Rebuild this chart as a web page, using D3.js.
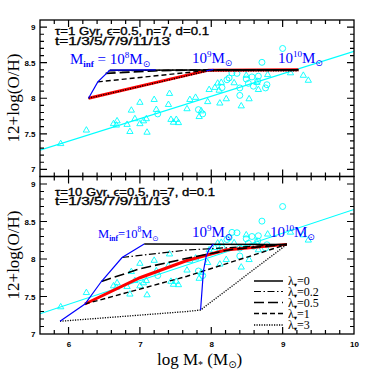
<!DOCTYPE html>
<html><head><meta charset="utf-8">
<script src="https://cdn.jsdelivr.net/npm/d3@7"></script>
<style>body{margin:0;background:#fff} svg{display:block}</style>
</head><body>
<svg id="c" width="374" height="374"></svg>
<script>
// ---------------- data ----------------
const obsTriangles = [
 [5.89,7.36],[6.25,7.55],[6.63,7.64],[6.68,7.68],[6.67,7.62],[6.82,7.63],[6.88,7.83],[6.86,7.53],
 [6.93,7.71],[7.00,7.64],[7.00,7.94],[7.05,7.68],[7.09,7.71],[7.10,7.52],[7.20,7.98],[7.23,7.84],
 [7.40,7.91],[7.415,8.065],[7.435,7.70],[7.47,7.66],[7.51,7.70],[7.54,7.655],[7.66,7.85],[7.70,7.98],
 [7.78,8.01],[7.83,7.74],[7.86,7.82],[7.95,7.95],[7.97,8.12],[8.05,8.15],[8.09,8.21],[8.11,8.11],
 [8.12,7.93],[8.14,8.22],[8.21,7.99],[8.32,8.215],[8.42,7.89],[8.53,7.99],[8.49,8.32],[8.64,8.22],
 [8.66,8.12],[8.79,8.33],[9.11,8.355],[9.29,8.32],[9.36,8.25]
];
const obsCircles = [
 [7.25,7.78],[7.82,7.84],[7.88,7.78],[8.15,8.15],[8.22,8.26],[8.25,8.285],[8.29,8.355],[8.36,8.35],
 [8.40,8.145],[8.40,8.04],[8.49,8.27],[8.52,8.21],[8.57,8.30],[8.59,8.17],[8.65,8.24],[8.66,8.31],
 [8.71,8.505],[8.76,8.145],[8.78,8.19],[9.00,8.70]
];
const fitLine = [[5.6,7.27],[10,8.66]];

const lambdaLabels = ["0","0.2","0.5","1","3"];

// tau = 1 Gyr panel tracks (logM*, 12+log(O/H))
const tau1_lam0  = [[6.58,8.395],[9.22,8.40]];
const tau1_lam02 = [[6.56,8.385],[7.96,8.40],[9.22,8.40]];
const tau1_lam05 = [[6.52,8.35],[7.20,8.385],[7.96,8.40],[9.22,8.40]];
const tau1_lam1  = [[6.41,8.23],[7.93,8.39],[9.22,8.40]];
const tau1_lam3  = [[6.28,8.00],[7.96,8.385],[9.22,8.385]];
const tau1_red   = [[6.28,8.00],[7.96,8.395],[9.22,8.40]];
const tau1_m8    = [[6.28,8.00],[6.41,8.23],[6.58,8.395],[7.22,8.40]];
const tau1_m9    = [[7.93,8.385],[8.03,8.405]];

// tau = 10 Gyr panel tracks
const tau10_lam0  = [[7.06,8.20],[9.06,8.195]];
const tau10_lam02 = [[6.75,8.02],[7.66,8.12],[9.06,8.195]];
const tau10_lam05 = [[6.46,7.70],[7.00,7.87],[7.66,8.01],[8.30,8.13],[9.06,8.195]];
const tau10_lam1  = [[6.23,7.40],[7.66,7.77],[9.06,8.195]];
const tau10_lam3  = [[5.88,7.17],[7.66,7.30],[7.85,7.32],[9.06,8.195]];
const tau10_red   = [[6.23,7.40],[7.00,7.75],[7.66,7.98],[8.20,8.12],[9.06,8.195]];
const tau10_m8    = [[5.88,7.17],[6.23,7.40],[6.46,7.70],[6.75,8.02],[7.06,8.20]];
const tau10_m9    = [[7.85,7.32],[7.89,7.84],[7.93,8.04],[7.97,8.13],[8.03,8.20]];

const yMajorTicks = [7,7.5,8,8.5,9];
const xMajorTicks = [6,7,8,9,10];

// ---------------- styles ----------------
const lamStyles = [
  {dash:null, w:1.5},
  {dash:"7 2.5 1.5 2.5", w:1.2},
  {dash:"10 4", w:1.6},
  {dash:"5 3", w:1.4},
  {dash:"1.2 1.3", w:1.3}
];
const serif="Liberation Serif, Times New Roman, serif";
const sans="Liberation Sans, Arial, sans-serif";

const svg = d3.select("#c");
const x = d3.scaleLinear().domain([5.6,10]).range([40,354]);
const yTop = d3.scaleLinear().domain([6.9,9.1]).range([176.5,20]);
const yBot = d3.scaleLinear().domain([7,9.1]).range([334,176.5]);

const panels = [
  {y:yTop, id:"p1", tracks:[tau1_lam0,tau1_lam02,tau1_lam05,tau1_lam1,tau1_lam3], red:tau1_red, m8:tau1_m8, m9:tau1_m9,
   line1:"τ=1 Gyr, ϵ=0.5, n=7, d=0.1", len1:154, base1:35, base2:44.5,
   lab8:{x:70,y:64,fs:15,spaced:true}, lab9:{x:192,y:62.5}, lab10:{x:278,y:62.5}},
  {y:yBot, id:"p2", tracks:[tau10_lam0,tau10_lam02,tau10_lam05,tau10_lam1,tau10_lam3], red:tau10_red, m8:tau10_m8, m9:tau10_m9,
   line1:"τ=10 Gyr, ϵ=0.5, n=7, d=0.1", len1:160, base1:195.5, base2:205,
   lab8:{x:98,y:238,fs:12.5,spaced:false}, lab9:{x:192,y:236.5}, lab10:{x:270,y:236.5}}
];

function minorRange(a,b,s){const r=[];for(let v=a;v<=b+1e-9;v+=s)r.push(+v.toFixed(3));return r;}

panels.forEach(p=>{
  const y=p.y;
  const [yb,yt]=y.range();
  const cp = svg.append("clipPath").attr("id","clip"+p.id);
  cp.append("rect").attr("x",40).attr("y",yt).attr("width",314).attr("height",yb-yt);
  const g = svg.append("g").attr("clip-path","url(#clip"+p.id+")");
  const line = d3.line().x(d=>x(d[0])).y(d=>y(d[1]));

  g.selectAll(".tri").data(obsTriangles).join("path")
    .attr("d",d3.symbol(d3.symbolTriangle,17)())
    .attr("transform",d=>`translate(${x(d[0])},${y(d[1])})`)
    .attr("fill","none").attr("stroke","#00ffff").attr("stroke-width",0.9);
  g.selectAll(".cir").data(obsCircles).join("circle")
    .attr("cx",d=>x(d[0])).attr("cy",d=>y(d[1])).attr("r",3)
    .attr("fill","none").attr("stroke","#00ffff").attr("stroke-width",0.9);
  g.append("path").attr("d",line(fitLine)).attr("stroke","#00ffff").attr("stroke-width",1.1).attr("fill","none");

  g.append("path").attr("d",line(p.red)).attr("stroke","#ff0000").attr("stroke-width",3).attr("fill","none");
  p.tracks.forEach((t,i)=>{
    const s=lamStyles[i];
    const pa=g.append("path").attr("d",line(t)).attr("stroke","#000").attr("stroke-width",s.w).attr("fill","none");
    if(s.dash) pa.attr("stroke-dasharray",s.dash);
  });
  [p.m8,p.m9].forEach(m=>{
    g.append("path").attr("d",line(m)).attr("stroke","#0000ff").attr("stroke-width",1.2).attr("fill","none");
  });

  // y tick labels
  const yl = svg.append("g").attr("transform","translate(40,0)")
    .call(d3.axisLeft(y).tickValues(yMajorTicks).tickSize(0).tickPadding(4.5).tickFormat(d3.format("")));
  yl.select(".domain").remove();
  yl.selectAll("text").attr("font-family",sans).attr("font-weight","bold").attr("font-size",8).attr("fill","#000");

  // frame
  svg.append("rect").attr("x",40).attr("y",yt).attr("width",314).attr("height",yb-yt)
    .attr("fill","none").attr("stroke","#000").attr("stroke-width",1.3);

  // ticks (inward, all four sides)
  const yMinor=minorRange(7,9.1,0.1).filter(v=>v>y.domain()[0]+1e-6 && v<y.domain()[1]-1e-6);
  const xMinor=minorRange(5.8,9.8,0.2);
  const pth=d3.path();
  yMinor.forEach(v=>{
    const L=yMajorTicks.includes(v)?7:4, yy=y(v);
    pth.moveTo(40,yy); pth.lineTo(40+L,yy);
    pth.moveTo(354,yy); pth.lineTo(354-L,yy);
  });
  xMinor.forEach(v=>{
    const L=xMajorTicks.includes(v)?7:4, xx=x(v);
    pth.moveTo(xx,yb); pth.lineTo(xx,yb-L);
    pth.moveTo(xx,yt); pth.lineTo(xx,yt+L);
  });
  svg.append("path").attr("d",pth.toString()).attr("fill","none")
    .attr("stroke","#000").attr("stroke-width",1.2);

  // parameter text
  svg.append("text").attr("x",55).attr("y",p.base1).text(p.line1)
    .attr("font-family",sans).attr("font-size",10).attr("stroke","#000").attr("stroke-width",0.3)
    .attr("textLength",p.len1).attr("lengthAdjust","spacingAndGlyphs");
  svg.append("text").attr("x",55).attr("y",p.base2).text("t=1/3/5/7/9/11/13")
    .attr("font-family",sans).attr("font-size",10).attr("stroke","#000").attr("stroke-width",0.3)
    .attr("textLength",115).attr("lengthAdjust","spacingAndGlyphs");

  // mass labels
  const fs=p.lab8.fs, sub=fs*0.6;
  const t8=svg.append("text").attr("x",p.lab8.x).attr("y",p.lab8.y).attr("fill","#0000ff")
    .attr("font-family",serif).attr("font-size",fs);
  t8.append("tspan").text("M");
  t8.append("tspan").text("inf").attr("font-size",sub).attr("font-weight","bold").attr("dy",3);
  t8.append("tspan").text(p.lab8.spaced?" = 10":"=10").attr("dy",-3);
  t8.append("tspan").text("8").attr("font-size",sub).attr("dy",-6);
  t8.append("tspan").text("M").attr("dy",6);
  t8.append("tspan").text("⊙").attr("font-size",sub).attr("dy",3).attr("font-family","DejaVu Sans");
  const lab=(o,exp)=>{
    const t=svg.append("text").attr("x",o.x).attr("y",o.y).attr("fill","#0000ff")
      .attr("font-family",serif).attr("font-size",15);
    t.append("tspan").text("10");
    t.append("tspan").text(exp).attr("font-size",9).attr("dy",-6);
    t.append("tspan").text("M").attr("dy",6);
    t.append("tspan").text("⊙").attr("font-size",9).attr("dy",3).attr("font-family","DejaVu Sans");
  };
  lab(p.lab9,"9");
  lab(p.lab10,"10");
});

// x tick labels (bottom panel)
const xl = svg.append("g").attr("transform","translate(0,334)")
  .call(d3.axisBottom(x).tickValues(xMajorTicks).tickSize(0).tickPadding(7).tickFormat(d3.format("")));
xl.select(".domain").remove();
xl.selectAll("text").attr("font-family",sans).attr("font-weight","bold").attr("font-size",8).attr("fill","#000");

// axis titles
[98,255].forEach(cy=>{
  svg.append("text").attr("transform",`translate(19,${cy}) rotate(-90)`).attr("text-anchor","middle")
    .attr("font-family",serif).attr("font-size",17).text("12+log(O/H)");
});
const xt=svg.append("text").attr("x",157).attr("y",365).attr("font-family",serif).attr("font-size",17);
xt.append("tspan").text("log M");
xt.append("tspan").text("*").attr("font-size",10).attr("dy",3);
xt.append("tspan").text(" (M").attr("dy",-3);
xt.append("tspan").text("⊙").attr("font-size",10).attr("dy",3).attr("font-family","DejaVu Sans");
xt.append("tspan").text(")").attr("dy",-3);

// legend
const legRows=[281,291.5,302.5,313.5,325];
lambdaLabels.forEach((lab,i)=>{
  const s=lamStyles[i];
  const l=svg.append("line").attr("x1",254).attr("x2",283).attr("y1",legRows[i]).attr("y2",legRows[i])
    .attr("stroke","#000").attr("stroke-width",s.w);
  if(s.dash) l.attr("stroke-dasharray",s.dash);
  const t=svg.append("text").attr("x",288).attr("y",legRows[i]+4).attr("font-family",serif).attr("font-size",12);
  t.append("tspan").text("λ");
  t.append("tspan").text("▾").attr("font-size",6.5).attr("dy",2).attr("font-family","DejaVu Sans");
  t.append("tspan").text("="+lab).attr("dy",-2);
});
</script>
</body></html>
